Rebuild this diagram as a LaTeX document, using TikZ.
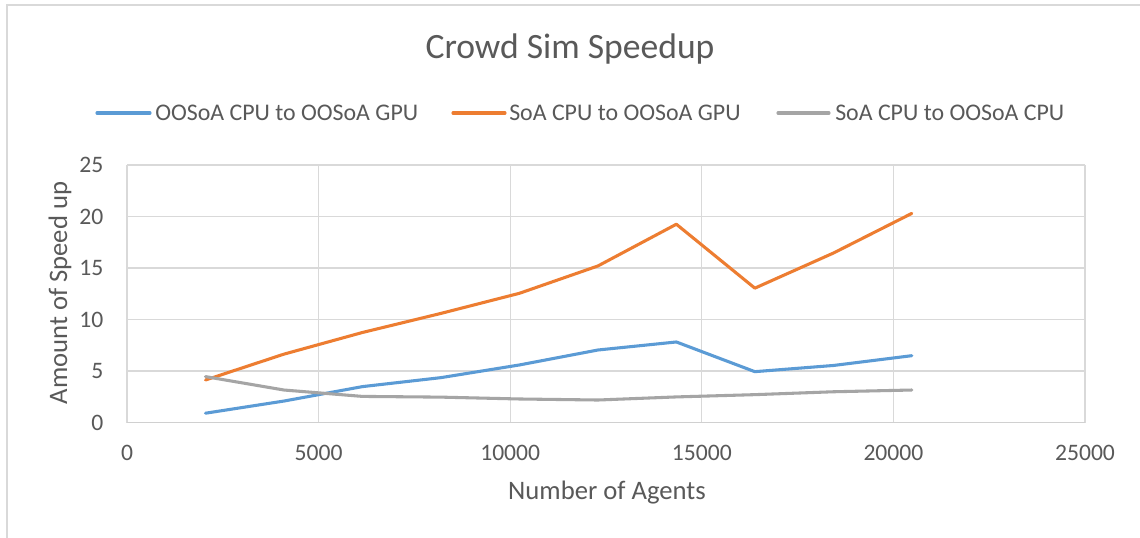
\documentclass[tikz,border=0pt]{standalone}
\usepackage{fontspec}
\setmainfont{Carlito}
\definecolor{txt}{HTML}{595959}
\definecolor{grid}{HTML}{D9D9D9}
\definecolor{axisc}{HTML}{D0D0D0}
\definecolor{sblue}{HTML}{5B9BD5}
\definecolor{sorange}{HTML}{ED7D31}
\definecolor{sgray}{HTML}{A5A5A5}
\begin{document}
\begin{tikzpicture}[x=0.75pt,y=-0.75pt,
  gridline/.style={draw=grid,line width=1pt},
  series/.style={line width=2.3pt,line join=round,line cap=round},
  ticklab/.style={text=txt,font=\fontsize{17.7}{20}\selectfont,inner sep=0pt},
  axtitle/.style={text=txt,font=\fontsize{20}{24}\selectfont,inner sep=0pt},
  legtext/.style={text=txt,font=\fontsize{17.9}{20}\selectfont,inner sep=0pt,anchor=west}]
\useasboundingbox (0,0) rectangle (1140,538);
\fill[white] (0,0) rectangle (1140,538);
% chart border (top and left visible)
\draw[draw=grid,line width=1pt] (7,538) -- (7,5) -- (1140,5);
% title
\node[text=txt,font=\fontsize{26.7}{30}\selectfont,inner sep=0pt] (title) at (570,49) {Crowd Sim Speedup};
% legend
\coordinate (lb1) at (97,113); \coordinate (lb2) at (150,113);
\draw[series,sblue] (lb1) -- (lb2);
\node[legtext] (legb) at (155,113) {OOSoA CPU to OOSoA GPU};
\coordinate (lo1) at (453,113); \coordinate (lo2) at (505,113);
\draw[series,sorange] (lo1) -- (lo2);
\node[legtext] (lego) at (509,113) {SoA CPU to OOSoA GPU};
\coordinate (lg1) at (778,113); \coordinate (lg2) at (829,113);
\draw[series,sgray] (lg1) -- (lg2);
\node[legtext] (legg) at (835,113) {SoA CPU to OOSoA CPU};
% plot area (x in thousands of agents)
\begin{scope}[shift={(127,422.7)},x=28.74pt,y=7.7325pt]
  \foreach \v in {5,10,...,25} \draw[gridline] (0,\v) -- (25,\v);
  \foreach \u in {0,5,...,25} \draw[gridline] (\u,0) -- (\u,25);
  \draw[draw=axisc,line width=1.1pt] (0,0) -- (25,0);
  \foreach \v in {0,5,...,25} \node[ticklab,anchor=east] (yt\v) at ([xshift=-17.5pt]0,\v) {\v};
  \foreach \u/\lab in {0/0,5/5000,10/10000,15/15000,20/20000,25/25000} \node[ticklab] (xt\u) at ([yshift=-22.7pt]\u,0) {\lab};
  \draw[series,sorange] (2.048,4.14) -- (4.096,6.65) -- (6.144,8.75) -- (8.192,10.6) -- (10.240,12.55) -- (12.288,15.2) -- (14.336,19.25) -- (16.384,13.05) -- (18.432,16.45) -- (20.480,20.3);
  \draw[series,sblue] (2.048,0.92) -- (4.096,2.1) -- (6.144,3.5) -- (8.192,4.37) -- (10.240,5.6) -- (12.288,7.05) -- (14.336,7.83) -- (16.384,4.95) -- (18.432,5.55) -- (20.480,6.5);
  \draw[series,sgray] (2.048,4.47) -- (4.096,3.17) -- (6.144,2.55) -- (8.192,2.48) -- (10.240,2.3) -- (12.288,2.2) -- (14.336,2.5) -- (16.384,2.72) -- (18.432,3.0) -- (20.480,3.17);
\end{scope}
% axis titles
\node[axtitle] (xtitle) at (607,493) {Number of Agents};
\node[axtitle,rotate=90] (ytitle) at (60,293) {Amount of Speed up};
\end{tikzpicture}
\end{document}
